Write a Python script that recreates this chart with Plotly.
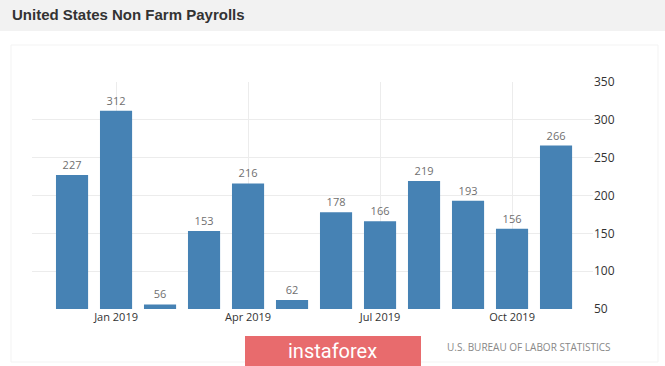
import plotly.graph_objects as go

months = ["Dec 2018", "Jan 2019", "Feb 2019", "Mar 2019", "Apr 2019", "May 2019",
          "Jun 2019", "Jul 2019", "Aug 2019", "Sep 2019", "Oct 2019", "Nov 2019"]
payrolls = [227, 312, 56, 153, 216, 62, 178, 166, 219, 193, 156, 266]
tick_months = ["Jan 2019", "Apr 2019", "Jul 2019", "Oct 2019"]
y_ticks = [50, 100, 150, 200, 250, 300, 350]

title_text = "United States Non Farm Payrolls"
source_text = "U.S. BUREAU OF LABOR STATISTICS"
logo_text = "instaforex"

W, H = 665, 366
ML, MR, MT, MB = 32, 72, 82, 57

fig = go.Figure()
fig.add_trace(go.Bar(
    x=months, y=payrolls,
    marker=dict(color="#4682b4", line=dict(width=0)),
    text=[str(v) for v in payrolls],
    textposition="outside",
    textfont=dict(family="Open Sans", size=11, color="#6f6f6f"),
    cliponaxis=False,
    hoverinfo="x+y",
))

fig.update_layout(
    width=W, height=H,
    margin=dict(l=ML, r=MR, t=MT, b=MB),
    paper_bgcolor="white", plot_bgcolor="white",
    showlegend=False,
    bargap=0.27,
    xaxis=dict(
        type="category",
        range=[-0.91, 11.84],
        tickmode="array", tickvals=tick_months, ticktext=tick_months,
        showgrid=True, gridcolor="#ececec", gridwidth=1,
        showline=False, zeroline=False, ticks="",
        tickfont=dict(family="Open Sans", size=11, color="#333333"),
        fixedrange=True,
    ),
    yaxis=dict(
        range=[50, 350],
        tickvals=y_ticks,
        side="right",
        showgrid=True, gridcolor="#ececec", gridwidth=1,
        showline=False, zeroline=False, ticks="",
        tickfont=dict(family="Open Sans", size=12, color="#333333"),
        fixedrange=True,
    ),
)

# convert pixel coordinates to paper coordinates
pw, ph = W - ML - MR, H - MT - MB
def px(x):
    return (x - ML) / pw
def py(y):
    return (H - MB - y) / ph

shapes = [
    # title bar
    dict(type="rect", xref="paper", yref="paper", x0=px(0), x1=px(W), y0=py(31), y1=py(0),
         fillcolor="#f2f2f2", line=dict(width=0), layer="below"),
    # faint chart border
    dict(type="rect", xref="paper", yref="paper", x0=px(11), x1=px(658), y0=py(362), y1=py(45),
         fillcolor="rgba(0,0,0,0)", line=dict(width=1, color="#f3f3f3"), layer="below"),
    # logo box
    dict(type="rect", xref="paper", yref="paper", x0=px(245), x1=px(421), y0=py(366), y1=py(336),
         fillcolor="#e86b6d", line=dict(width=0)),
]
fig.update_layout(shapes=shapes)

fig.add_annotation(text="<b>" + title_text + "</b>", xref="paper", yref="paper",
                   x=px(10), y=py(15), xanchor="left", yanchor="middle", showarrow=False,
                   font=dict(family="Liberation Sans", size=15, color="#333333"))
fig.add_annotation(text=logo_text, xref="paper", yref="paper",
                   x=px(332), y=py(351), xanchor="center", yanchor="middle", showarrow=False,
                   font=dict(family="Roboto", size=20, color="white"))
fig.add_annotation(text=source_text, xref="paper", yref="paper",
                   x=px(445), y=py(347), xanchor="left", yanchor="middle", showarrow=False,
                   font=dict(family="Open Sans", size=10, color="#888888"))

fig.write_html("out.html", config={"displayModeBar": False},
               post_script="document.body.style.margin='0';document.body.style.overflow='hidden';")
